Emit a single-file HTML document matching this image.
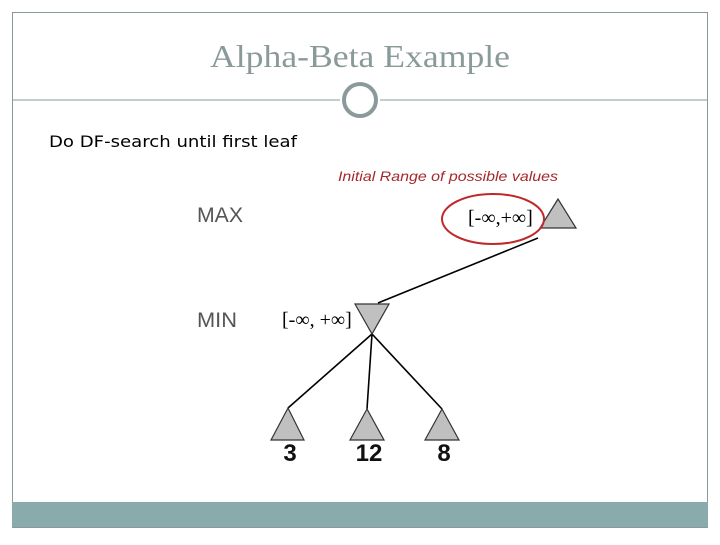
<!DOCTYPE html>
<html><head><style>
body{margin:0;background:#fff;width:720px;height:540px;overflow:hidden}
</style></head><body>
<svg width="720" height="540" xmlns="http://www.w3.org/2000/svg">
<rect x="12.5" y="12.5" width="695" height="515" fill="none" stroke="#8a9a9a" stroke-width="1"/>
<rect x="12" y="502" width="696" height="25" fill="#8aabab"/>
<text x="210" y="67" textLength="300" lengthAdjust="spacingAndGlyphs" font-family="Liberation Serif, serif" font-size="32" fill="#8a9a9a">Alpha-Beta Example</text>
<line x1="12" y1="100" x2="340" y2="100" stroke="#8a9a9a" stroke-width="1"/>
<line x1="380" y1="100" x2="708" y2="100" stroke="#8a9a9a" stroke-width="1"/>
<ellipse cx="360" cy="100" rx="16" ry="16" fill="none" stroke="#8a9a9a" stroke-width="4"/>
<text x="49" y="147" textLength="248" lengthAdjust="spacingAndGlyphs" font-family="DejaVu Sans, sans-serif" font-size="16" fill="#000">Do DF-search until first leaf</text>
<text x="338" y="181" textLength="220" lengthAdjust="spacingAndGlyphs" font-family="Liberation Sans, sans-serif" font-style="italic" font-size="14" fill="#a52a2a">Initial Range of possible values</text>
<text x="197" y="222" textLength="46" lengthAdjust="spacingAndGlyphs" font-family="Liberation Sans, sans-serif" font-size="21" fill="#555">MAX</text>
<text x="197" y="327" textLength="40" lengthAdjust="spacingAndGlyphs" font-family="Liberation Sans, sans-serif" font-size="21" fill="#555">MIN</text>
<g stroke="#000" stroke-width="1.6">
<line x1="538" y1="238" x2="378" y2="303"/>
<line x1="372" y1="334" x2="288" y2="408"/>
<line x1="372" y1="334" x2="367" y2="409"/>
<line x1="372" y1="334" x2="442" y2="409"/>
</g>
<g fill="#c0c0c0" stroke="#333" stroke-width="1.2">
<polygon points="558,199 540,228 576,228"/>
<polygon points="355,304 389,304 372,334"/>
<polygon points="288,408 271,440 304,440"/>
<polygon points="367,409 350,440 384,440"/>
<polygon points="442,409 425,440 459,440"/>
</g>
<ellipse cx="493" cy="219" rx="51" ry="25" fill="none" stroke="#c0282a" stroke-width="2"/>
<text x="468" y="224" font-family="Liberation Serif, serif" font-size="20" fill="#000">[-∞,+∞]</text>
<text x="282" y="326" font-family="Liberation Serif, serif" font-size="20" fill="#000">[-∞, +∞]</text>
<g font-family="Liberation Sans, sans-serif" font-weight="bold" font-size="24" fill="#111" text-anchor="middle">
<text x="290" y="461">3</text>
<text x="369" y="461">12</text>
<text x="444" y="461">8</text>
</g>
</svg>
</body></html>
